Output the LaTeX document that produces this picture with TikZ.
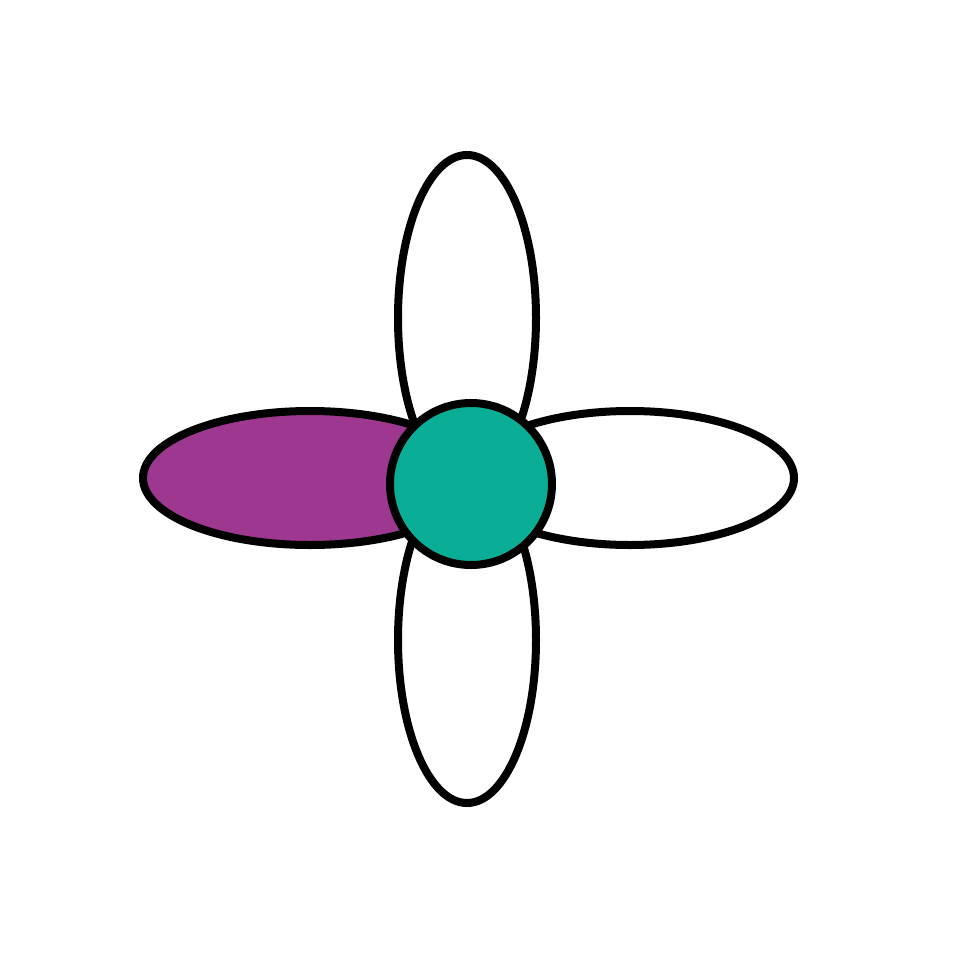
\documentclass[tikz,border=0pt]{standalone}
\usetikzlibrary{shapes.geometric}
\definecolor{petalpurple}{HTML}{9E3790}
\definecolor{centerteal}{HTML}{0AAE96}
\begin{document}
\begin{tikzpicture}[x=1pt,y=-1pt,
  outline/.style={draw=black,line width=8pt,inner sep=0pt},
  hpetal/.style={outline,fill=white,ellipse,minimum width=334pt,minimum height=134pt},
  vpetal/.style={outline,fill=white,ellipse,minimum width=138pt,minimum height=326pt}]
\useasboundingbox[fill=white] (0,0) rectangle (958,958);
\node[hpetal,fill=petalpurple] (left) at (310,478) {};
\node[vpetal] (top) at (467,318) {};
\node[vpetal] (bottom) at (467,640) {};
\node[hpetal,minimum width=328pt] (right) at (630,478) {};
\node[outline,fill=centerteal,circle,minimum size=162pt] (center) at (471,484) {};
\end{tikzpicture}
\end{document}
